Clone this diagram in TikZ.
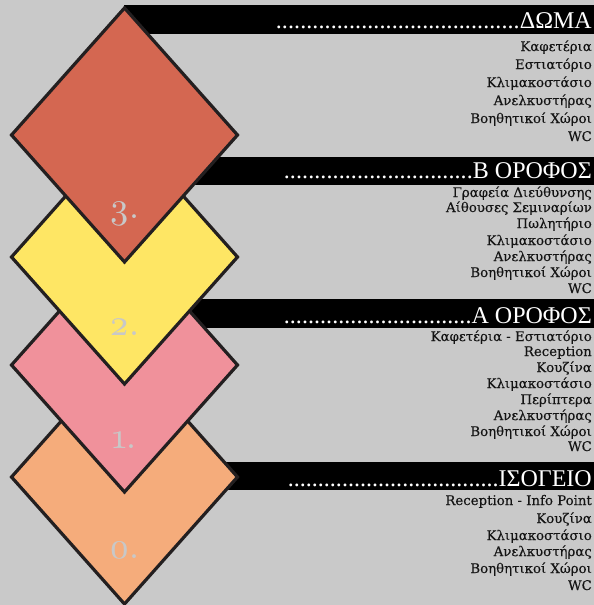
\documentclass[tikz,border=0pt]{standalone}
\usepackage{fontspec}
\setmainfont{Liberation Serif}
\newfontfamily\listfont{DejaVu Serif}[FakeBold=0.25]
\newfontfamily\headfont{Liberation Serif}
\newfontfamily\numfont{lmroman10-regular.otf}[Numbers=OldStyle]
\definecolor{bg}{HTML}{C9C9C9}
\definecolor{cthree}{HTML}{D46751}
\definecolor{ctwo}{HTML}{FEE664}
\definecolor{cone}{HTML}{F0919B}
\definecolor{czero}{HTML}{F5AC7B}
\definecolor{edge}{HTML}{231F20}
\definecolor{numgray}{HTML}{C8C8C8}
\definecolor{txt}{HTML}{141414}
\newcommand\headline[2]{\makebox[#1pt][r]{\xleaders\hbox{.}\hfill #2}}
\begin{document}
\begin{tikzpicture}[x=1pt,y=-1pt,
  bar/.style={fill=black},
  dia/.style={draw=edge,line width=3.2pt,line join=miter},
  head/.style={text=white,font=\headfont\fontsize{24}{24}\selectfont,anchor=base east,inner sep=0pt},
  item/.style={text=txt,font=\listfont\fontsize{13.3}{14}\selectfont,anchor=base east,inner sep=0pt},
  num/.style={text=numgray,font=\numfont\fontsize{36}{36}\selectfont,anchor=base,inner sep=0pt}]
\fill[bg] (0,0) rectangle (594,605);
\useasboundingbox (0,0) rectangle (594,605);
% bars
\fill[bar] (124,5) rectangle (594,34);
\fill[bar] (124,157) rectangle (594,185);
\fill[bar] (124,299) rectangle (594,328);
\fill[bar] (124,462) rectangle (594,490);
% diamonds (bottom first)
\draw[dia,fill=czero] (124.5,350) -- ++(113,127) -- ++(-113,127) -- ++(-113,-127) -- cycle;
\draw[dia,fill=cone] (124.5,238) -- ++(113,127) -- ++(-113,127) -- ++(-113,-127) -- cycle;
\draw[dia,fill=ctwo] (124.5,130) -- ++(113,127) -- ++(-113,127) -- ++(-113,-127) -- cycle;
\draw[dia,fill=cthree] (124.5,8) -- ++(113,127) -- ++(-113,127) -- ++(-113,-127) -- cycle;
% numbers
\node[num] (n3) at (124.5,218) {3.};
\node[num] (n2) at (124.5,335) {2.};
\node[num] (n1) at (124.5,448) {1.};
\node[num] (n0) at (124.5,558) {0.};
% headers
\node[head] (h3) at (592,28) {\headline{316}{ΔΩΜΑ}};
\node[head] (h2) at (592,178) {\headline{308}{Β ΟΡΟΦΟΣ}};
\node[head] (h1) at (592,323) {\headline{308}{Α ΟΡΟΦΟΣ}};
\node[head] (h0) at (592,486) {\headline{304}{ΙΣΟΓΕΙΟ}};
% lists
\node[item] (a1) at (592,51) {Καφετέρια};
\node[item] (a2) at (592,69) {Εστιατόριο};
\node[item] (a3) at (592,87) {Κλιμακοστάσιο};
\node[item] (a4) at (592,105) {Ανελκυστήρας};
\node[item] (a5) at (592,123) {Βοηθητικοί Χώροι};
\node[item] (a6) at (592,141) {WC};
\node[item] (b1) at (592,197) {Γραφεία Διεύθυνσης};
\node[item] (b2) at (592,212) {Αίθουσες Σεμιναρίων};
\node[item] (b3) at (592,228) {Πωλητήριο};
\node[item] (b4) at (592,245) {Κλιμακοστάσιο};
\node[item] (b5) at (592,261) {Ανελκυστήρας};
\node[item] (b6) at (592,277) {Βοηθητικοί Χώροι};
\node[item] (b7) at (592,293) {WC};
\node[item] (c1) at (592,341) {Καφετέρια - Εστιατόριο};
\node[item] (c2) at (592,356) {Reception};
\node[item] (c3) at (592,372) {Κουζίνα};
\node[item] (c4) at (592,388) {Κλιμακοστάσιο};
\node[item] (c5) at (592,404) {Περίπτερα};
\node[item] (c6) at (592,420) {Ανελκυστήρας};
\node[item] (c7) at (592,436) {Βοηθητικοί Χώροι};
\node[item] (c8) at (592,451) {WC};
\node[item] (d1) at (592,505) {Reception - Info Point};
\node[item] (d2) at (592,523) {Κουζίνα};
\node[item] (d3) at (592,540) {Κλιμακοστάσιο};
\node[item] (d4) at (592,556) {Ανελκυστήρας};
\node[item] (d5) at (592,573) {Βοηθητικοί Χώροι};
\node[item] (d6) at (592,590) {WC};
\end{tikzpicture}
\end{document}
